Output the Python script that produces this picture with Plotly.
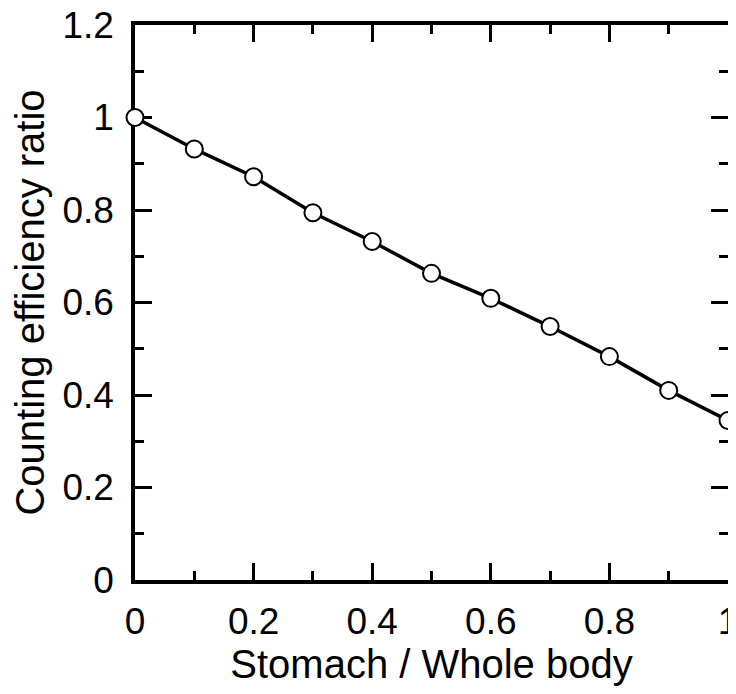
import plotly.graph_objects as go

x_vals = [0.0, 0.1, 0.2, 0.3, 0.4, 0.5, 0.6, 0.7, 0.8, 0.9, 1.0]
ratio = [1.0, 0.932, 0.872, 0.794, 0.732, 0.663, 0.609, 0.548, 0.483, 0.410, 0.345]
x_title = "Stomach / Whole body"
y_title = "Counting efficiency ratio"

fig = go.Figure()
fig.add_trace(go.Scatter(
    x=x_vals, y=ratio, mode="lines+markers",
    line=dict(color="black", width=3.5),
    marker=dict(symbol="circle", size=17, color="white", line=dict(color="black", width=2)),
    cliponaxis=False, showlegend=False,
))

tick_font = dict(family="Liberation Sans, Arial, sans-serif", size=37, color="black")
title_font = dict(family="Liberation Sans, Arial, sans-serif", size=40, color="black")
axis_common = dict(
    showline=True, linewidth=3.5, linecolor="black", mirror="ticks",
    ticks="inside", ticklen=17, tickwidth=3, tickcolor="black",
    showgrid=False, zeroline=False, tickfont=tick_font, automargin=False,
    ticklabeloverflow="allow", layer="below traces",
    minor=dict(ticks="inside", ticklen=9, tickwidth=3, tickcolor="black", dtick=0.1, showgrid=False),
)
fig.update_xaxes(range=[0, 1], dtick=0.2, tick0=0, title=dict(text=x_title, font=title_font, standoff=6),
                 ticklabelstandoff=6, **axis_common)
fig.update_yaxes(range=[0, 1.2], dtick=0.2, tick0=0, title=dict(text=y_title, font=title_font, standoff=14),
                 ticklabelstandoff=10, **axis_common)
fig.update_layout(
    width=728, height=686,
    margin=dict(l=127, r=8, t=17, b=114),
    plot_bgcolor="white", paper_bgcolor="white",
)
fig.write_html("out.html")
